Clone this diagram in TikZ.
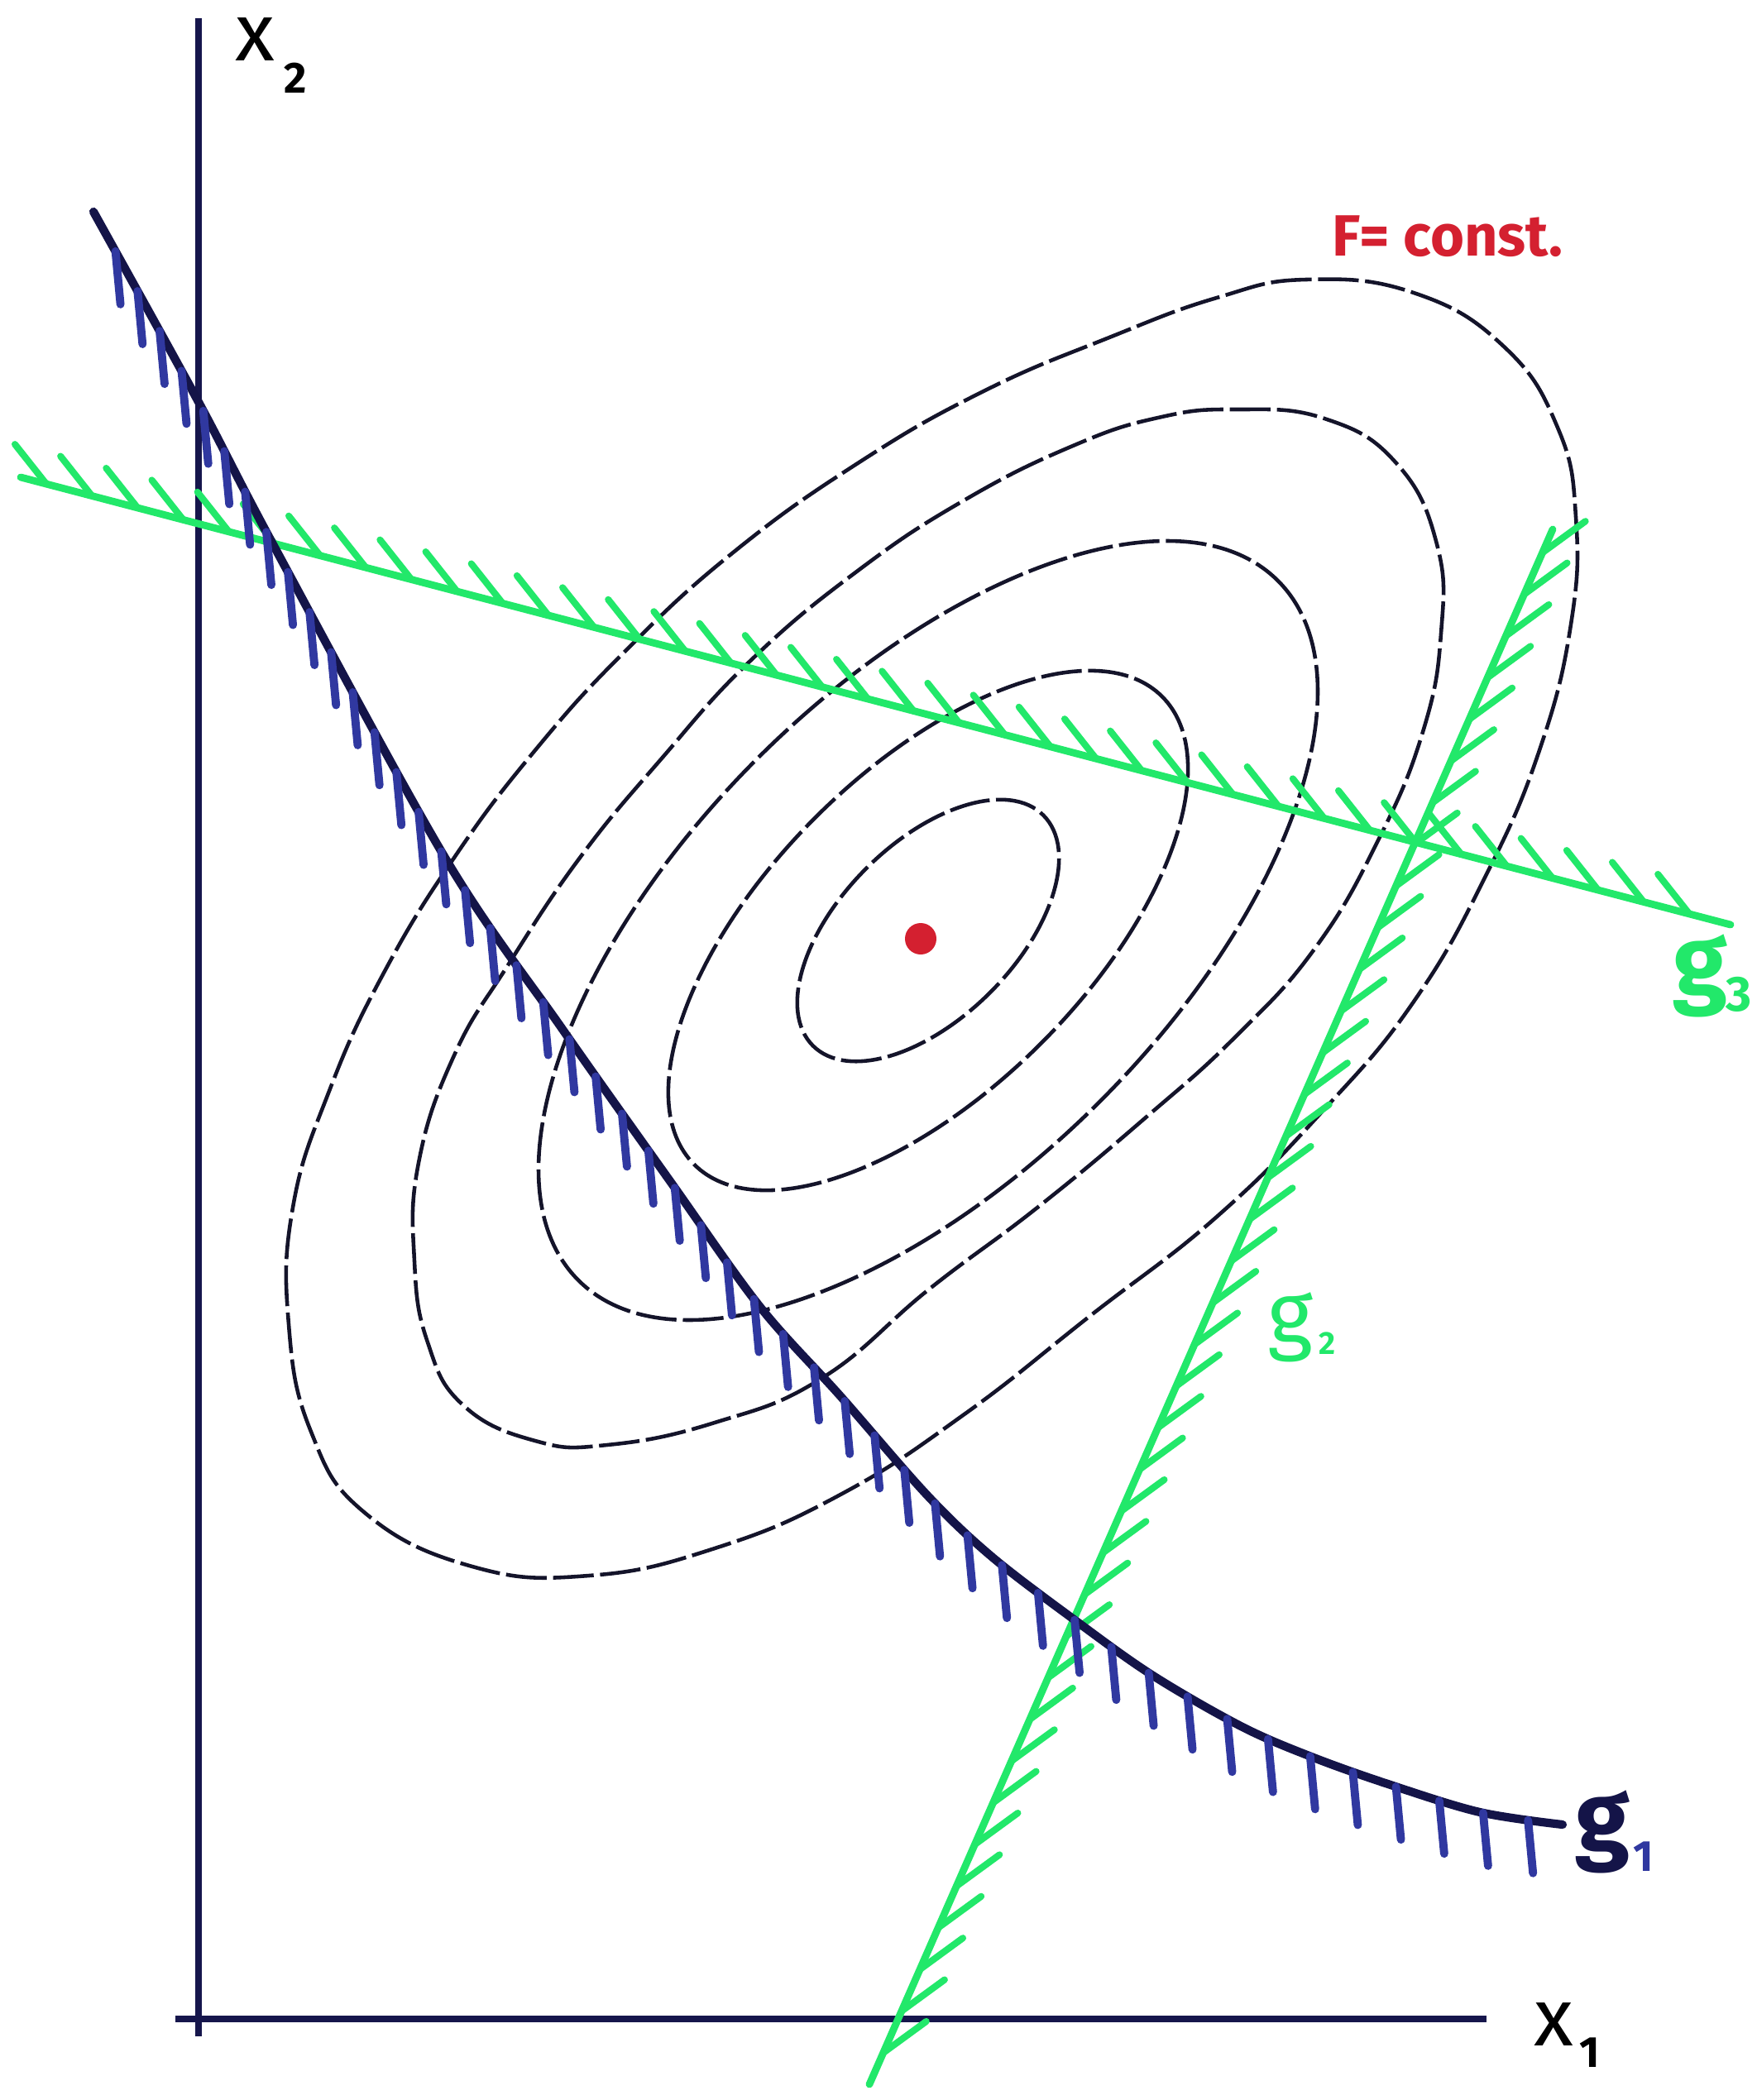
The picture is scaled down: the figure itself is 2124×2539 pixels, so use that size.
\documentclass[tikz,border=0pt]{standalone}
\usepackage{fontspec}
\setmainfont{Fira Sans}
\usetikzlibrary{decorations.markings}
\definecolor{axiscol}{HTML}{16164C}
\definecolor{gonecol}{HTML}{141448}
\definecolor{gonehatch}{HTML}{3038A0}
\definecolor{greencol}{HTML}{22E86A}
\definecolor{redcol}{HTML}{D42030}
\definecolor{ellcol}{HTML}{14142A}
\begin{document}
\begin{tikzpicture}[x=0.01cm,y=-0.01cm,
  axisline/.style={draw=axiscol,line width=2.4pt},
  contour/.style={draw=ellcol,line width=1.3pt,dash pattern=on 14pt off 2.2pt},
  gonehatched/.style={postaction={decorate,decoration={markings,
     mark=between positions 0.02 and 0.985 step 0.55cm with {\pgftransformresetnontranslations
       \draw[gonehatch,line width=2.8pt,line cap=round] (0,0) -- (6,64);}}}},
  gthreehatched/.style={postaction={decorate,decoration={markings,
     mark=between positions 0.015 and 0.98 step 0.57cm with {\pgftransformresetnontranslations
       \draw[greencol,line width=2.3pt,line cap=round] (0,0) -- (-38,-48);}}}},
  gtwohatched/.style={postaction={decorate,decoration={markings,
     mark=between positions 0.015 and 0.99 step 0.55cm with {\pgftransformresetnontranslations
       \draw[greencol,line width=2.3pt,line cap=round] (0,0) -- (52,-38);}}}},
  greenline/.style={draw=greencol,line width=2.5pt,line cap=round},
  lab/.style={inner sep=0pt,anchor=center}
]
\useasboundingbox (0,0) rectangle (2124,2539);

% axes
\coordinate (ytop) at (240,22);
\coordinate (ybot) at (240,2462);
\coordinate (xleft) at (212,2441);
\coordinate (xright) at (1797,2441);
\draw[axisline] (ybot) -- (ytop);
\draw[axisline] (xleft) -- (xright);

% contours F = const.
\coordinate (ctr) at (1122,1125);
\draw[contour,rotate around={45:(ctr)}] (ctr) ellipse [x radius=197, y radius=106];
\draw[contour,rotate around={45:(ctr)}] (ctr) ellipse [x radius=400, y radius=193];
\draw[contour,rotate around={45:(ctr)}] (ctr) ellipse [x radius=598, y radius=293];
\draw[contour] plot[smooth cycle,tension=0.75] coordinates {
 (1493,495) (1601,506) (1688,560) (1737,658) (1742,766) (1720,885)
 (1666,1016) (1590,1146) (1493,1254) (1384,1352) (1254,1460) (1124,1558)
 (994,1666) (864,1720) (734,1747) (647,1742) (560,1699) (517,1623)
 (501,1525) (506,1406) (549,1276) (614,1167) (701,1037) (799,918)
 (907,799) (1037,690) (1167,604) (1297,539) (1400,505)};
\draw[contour] plot[smooth cycle,tension=0.75] coordinates {
 (1579,338) (1709,354) (1818,419) (1883,517) (1905,625) (1899,755)
 (1861,907) (1796,1059) (1709,1211) (1601,1341) (1471,1471) (1319,1590)
 (1167,1709) (1016,1807) (864,1872) (712,1905) (571,1894) (441,1829)
 (376,1731) (349,1601) (354,1460) (398,1319) (463,1178) (549,1037)
 (647,907) (755,788) (885,669) (1037,560) (1189,473) (1341,408) (1471,360)};

% optimum
\node[circle,fill=redcol,inner sep=0pt,minimum size=0.38cm] (opt) at (1113,1135) {};

% constraint g3
\coordinate (gthreeA) at (25,577);
\coordinate (gthreeB) at (2092,1118);
\draw[greenline,gthreehatched] (gthreeA) -- (gthreeB);

% constraint g2
\coordinate (gtwoA) at (1877,640);
\coordinate (gtwoB) at (1051,2520);
\draw[greenline,gtwohatched] (gtwoA) -- (gtwoB);

% constraint g1
\draw[draw=gonecol,line width=2.9pt,line cap=round,gonehatched]
 plot[smooth,tension=0.55] coordinates {
 (113,256) (240,486) (330,658) (538,1037) (679,1243) (810,1428) (918,1579)
 (1016,1688) (1122,1809) (1200,1883) (1301,1960) (1394,2026) (1502,2088)
 (1588,2125) (1681,2158) (1789,2191) (1889,2206)};

% labels
\node[lab,font=\fontsize{28}{30}\selectfont] (xtwo) at (308,48) {x};
\node[lab,font=\fontsize{15}{17}\selectfont\bfseries] (xtwosub) at (357,94) {2};
\node[lab,font=\fontsize{28}{30}\selectfont] (xone) at (1878,2448) {x};
\node[lab,font=\fontsize{15}{17}\selectfont\bfseries] (xonesub) at (1922,2482) {1};

\node[lab,text=gonecol,font=\fontsize{34}{36}\selectfont\bfseries] (gone) at (1937,2215) {g};
\node[lab,text=gonehatch,font=\fontsize{15}{17}\selectfont\bfseries] (gonesub) at (1987,2245) {1};
\node[lab,text=greencol,font=\fontsize{34}{36}\selectfont\bfseries] (gthree) at (2055,1180) {g};
\node[lab,text=greencol,font=\fontsize{17}{19}\selectfont\bfseries] (gthreesub) at (2102,1202) {3};
\node[lab,text=greencol,font=\fontsize{30}{32}\selectfont] (gtwo) at (1560,1605) {g};
\node[lab,text=greencol,font=\fontsize{11}{13}\selectfont\bfseries] (gtwosub) at (1604,1624) {2};

\node[lab,text=redcol,font=\fontsize{20}{22}\selectfont\bfseries] (flab) at (1750,286) {F= const.};
\end{tikzpicture}
\end{document}
